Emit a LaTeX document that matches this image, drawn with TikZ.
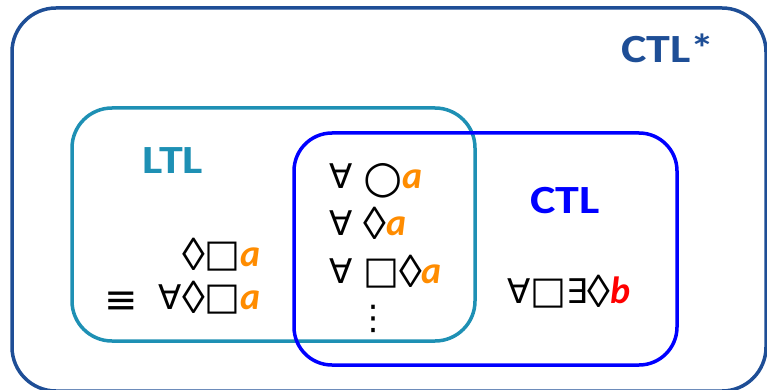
\documentclass[tikz,border=0pt]{standalone}
\usepackage{fontspec}
\setmainfont{Carlito}
\newfontfamily\labelfont[FakeStretch=1.2]{Carlito}
\newfontfamily\formfont{DejaVu Sans}
\newfontfamily\lozfont{Liberation Sans}
\usepackage{tikz}
\definecolor{ctlstarblue}{RGB}{30,78,150}
\definecolor{ltlteal}{RGB}{30,144,180}
\definecolor{ctlblue}{RGB}{0,0,255}
\definecolor{propa}{RGB}{255,140,0}
\newcommand{\pa}{\textcolor{propa}{\fontfamily{\familydefault}\selectfont\fontsize{38}{38}\selectfont\bfseries\itshape a}}
\newcommand{\pb}{\textcolor{red}{\fontfamily{\familydefault}\selectfont\fontsize{38}{38}\selectfont\bfseries\itshape b}}
\newcommand{\nxt}{\raisebox{-4pt}{\fontsize{45}{45}\selectfont ○}}
\newcommand{\alw}{{\fontsize{38}{38}\selectfont □}}
\newcommand{\ev}{\raisebox{-4pt}{\lozfont\fontsize{46}{46}\selectfont ◊}}

\begin{document}
\begin{tikzpicture}[x=1pt, y=-1pt,
  setline/.style={line width=3.5pt, rounded corners=44pt},
  setname/.style={font=\fontsize{40}{40}\selectfont\labelfont\bfseries, anchor=base west, inner sep=0},
  formula/.style={font=\fontsize{34}{34}\selectfont\formfont, inner sep=0}]
 \useasboundingbox (0, 0) rectangle (767, 390);
  \draw [setline, ctlstarblue] (12, 8) rectangle (766, 391);
  \draw [setline, ltlteal, rounded corners=40pt] (72, 108) rectangle (475, 341);
  \draw [setline, ctlblue, rounded corners=38pt] (294, 133) rectangle (677, 365);
  \node [setname, text=ctlstarblue] (ctlstar) at (621, 63) {CTL*};
  \node [setname, text=ltlteal] (ltl) at (142, 173) {LTL};
  \node [setname, text=ctlblue] (ctl) at (530, 213) {CTL};
  \node [formula, anchor=base west] (nexta) at (329, 188) {∀ \nxt\pa};
  \node [formula, anchor=base west] (eventa) at (329, 235) {∀ \ev\pa};
  \node [formula, anchor=base west] (infa) at (329, 283) {∀ \alw\ev\pa};
  \node [formula, anchor=north] (more) at (373, 305) {⋮};
  \node [formula, anchor=base east] (persa) at (261, 266) {\ev\alw\pa};
  \node [formula, anchor=base east] (apersa) at (261, 309) {∀\ev\alw\pa};
  \node [formula, anchor=west, font=\fontsize{40}{40}\selectfont\formfont] (equiv) at (104, 303) {≡};
  \node [formula, anchor=base west] (agefb) at (507, 303) {∀\alw∃\ev\pb};
\end{tikzpicture}
\end{document}
